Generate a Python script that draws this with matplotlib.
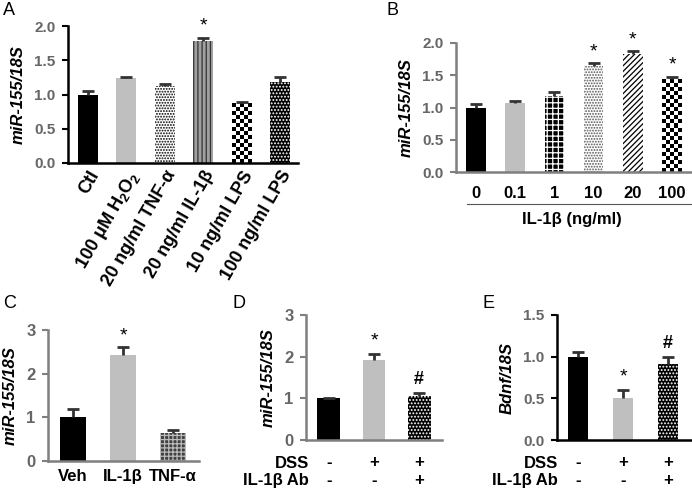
import numpy as np
import matplotlib
matplotlib.use("Agg")
import matplotlib.pyplot as plt

plt.rcParams['font.family'] = ['Liberation Sans', 'DejaVu Sans']
plt.rcParams['hatch.linewidth'] = 0.9
plt.rcParams['mathtext.fontset'] = 'custom'
plt.rcParams['mathtext.rm'] = 'Liberation Sans:bold'
plt.rcParams['mathtext.it'] = 'Liberation Sans:bold'
plt.rcParams['mathtext.bf'] = 'Liberation Sans:bold'

# panel A
a_labels = ['Ctl', '100 μM H$_2$O$_2$', '20 ng/ml TNF-α', '20 ng/ml IL-1β', '10 ng/ml LPS', '100 ng/ml LPS']
a_vals = [1.0, 1.24, 1.13, 1.78, 0.87, 1.18]
a_errs = [0.05, 0.02, 0.03, 0.05, 0.02, 0.08]
a_marks = ['', '', '', '*', '', '']

# panel B
b_labels = ['0', '0.1', '1', '10', '20', '100']
b_vals = [1.0, 1.07, 1.18, 1.65, 1.83, 1.44]
b_errs = [0.06, 0.03, 0.06, 0.04, 0.04, 0.04]
b_marks = ['', '', '', '*', '*', '*']

# panel C
c_labels = ['Veh', 'IL-1β', 'TNF-α']
c_vals = [1.0, 2.42, 0.65]
c_errs = [0.2, 0.18, 0.05]
c_marks = ['', '*', '']

# panel D
d_vals = [1.0, 1.93, 1.05]
d_errs = [0.02, 0.13, 0.08]
d_marks = ['', '*', '#']

# panel E
e_vals = [1.0, 0.5, 0.91]
e_errs = [0.06, 0.1, 0.09]
e_marks = ['', '*', '#']

dss = ['-', '+', '+']
ab = ['-', '-', '+']

W, H = 692, 496
fig = plt.figure(figsize=(W / 100, H / 100), dpi=100)


def axes_px(left, right, top, bottom):
    return fig.add_axes([left / W, 1 - bottom / H, (right - left) / W, (bottom - top) / H])


def checker(ax, bar, sq=4.0):
    x, y, w, h = bar.get_x(), bar.get_y(), bar.get_width(), bar.get_height()
    p0 = ax.transData.transform((x, y))
    p1 = ax.transData.transform((x + w, y + h))
    nx = max(1, int(round((p1[0] - p0[0]) / sq)))
    ny = max(1, int(round((p1[1] - p0[1]) / sq)))
    arr = np.add.outer(np.arange(ny), np.arange(nx)) % 2
    ax.imshow(arr, cmap='gray', extent=(x, x + w, y, y + h), aspect='auto',
              interpolation='nearest', origin='lower', zorder=2)


def panel(ax, vals, errs, marks, styles, width, xlim, ylim, yticks, yfmt,
          ylabel, axcol, errcol='#333333', markpad=0.05, fs=11):
    x = np.arange(len(vals))
    ax.set_xlim(*xlim)
    ax.set_ylim(*ylim)
    for i, (v, st) in enumerate(zip(vals, styles)):
        if st == 'checker':
            b = ax.bar(x[i], v, width, color='white', lw=0, zorder=1)[0]
            checker(ax, b)
        else:
            fc, hatch, hc = st
            ax.bar(x[i], v, width, color=fc, hatch=hatch, edgecolor=hc, lw=0, zorder=2)
    eb = ax.errorbar(x, vals, yerr=[np.zeros(len(vals)), errs], fmt='none',
                     ecolor=errcol, elinewidth=2, capsize=4, capthick=2, zorder=3)
    eb[1][0].set_visible(False)  # only the upper cap
    for i, m in enumerate(marks):
        if m:
            ax.text(x[i], vals[i] + errs[i] + markpad * (ylim[1] - ylim[0]), m,
                    ha='center', va='bottom', fontsize=14 if m == '*' else 13,
                    fontweight='bold' if m == '#' else 'normal')
    ax.set_xlim(*xlim)
    ax.set_ylim(*ylim)
    ax.set_yticks(yticks)
    ax.set_yticklabels([yfmt.format(t) for t in yticks], color='#666666',
                       fontweight='bold', fontsize=fs)
    ax.set_ylabel(ylabel, fontsize=12, fontweight='bold', style='italic', labelpad=6)
    for s in ['top', 'right']:
        ax.spines[s].set_visible(False)
    for s in ['left', 'bottom']:
        ax.spines[s].set_color(axcol)
        ax.spines[s].set_linewidth(1.8)
    ax.tick_params(axis='y', direction='out', length=4, width=1.5, color=axcol, pad=5)
    ax.tick_params(axis='x', length=0)
    ax.patch.set_alpha(0)
    return x


dark_dots = ('black', '.....', 'white')

# A
axA = axes_px(68, 298, 26, 163)
styA = [('black', '', 'black'), ('#bfbfbf', '', '#bfbfbf'), ('white', '......', 'black'),
        ('#a0a0a0', '||||', '#333333'), 'checker', dark_dots]
xA = panel(axA, a_vals, a_errs, a_marks, styA, 0.52, (-0.52, 5.47), (0, 2),
           [0, 0.5, 1, 1.5, 2], '{:.1f}', 'miR-155/18S', 'black', markpad=0.02)
axA.set_xticks(xA)
axA.set_xticklabels(a_labels, rotation=60, ha='right', rotation_mode='anchor',
                    fontweight='bold', fontsize=13)

# B
axB = axes_px(456, 692, 43, 172)
styB = [('black', '', 'black'), ('#bfbfbf', '', '#bfbfbf'), ('black', '+++', 'white'),
        ('white', '......', '#555555'), ('white', '//////', 'black'), 'checker']
xB = panel(axB, b_vals, b_errs, b_marks, styB, 0.5, (-0.51, 5.51), (0, 2),
           [0, 0.5, 1, 1.5, 2], '{:.1f}', 'miR-155/18S', '#7f7f7f', markpad=0.02)
axB.set_xticks(xB)
axB.set_xticklabels(b_labels, fontweight='bold', fontsize=12)
axB.tick_params(axis='x', pad=10)
axB.plot([0.047, 1.0], [-0.248, -0.248], transform=axB.transAxes, color='#555555',
         lw=0.8, clip_on=False)
axB.text(0.49, -0.37, 'IL-1β (ng/ml)', transform=axB.transAxes, ha='center', va='center',
         fontweight='bold', fontsize=12)

# C
axC = axes_px(48, 199, 330, 461)
styC = [('black', '', 'black'), ('#bfbfbf', '', '#bfbfbf'), ('#404040', '++++', '#bbbbbb')]
xC = panel(axC, c_vals, c_errs, c_marks, styC, 0.52, (-0.5, 2.52), (0, 3),
           [0, 1, 2, 3], '{:d}', 'miR-155/18S', '#7f7f7f', markpad=0.02, fs=12)
axC.set_xticks(xC)
axC.set_xticklabels(c_labels, fontweight='bold', fontsize=12)
axC.tick_params(axis='x', pad=6)

# D
axD = axes_px(306, 442, 315, 440)
styD = [('black', '', 'black'), ('#bfbfbf', '', '#bfbfbf'), dark_dots]
xD = panel(axD, d_vals, d_errs, d_marks, styD, 0.51, (-0.51, 2.51), (0, 3),
           [0, 1, 2, 3], '{:d}', 'miR-155/18S', '#7f7f7f', markpad=0.04, fs=12)
axD.set_xticks([])

# E
axE = axes_px(557, 692, 315, 440)
styE = [('black', '', 'black'), ('#bfbfbf', '', '#bfbfbf'), dark_dots]
xE = panel(axE, e_vals, e_errs, e_marks, styE, 0.44, (-0.47, 2.53), (0, 1.5),
           [0, 0.5, 1, 1.5], '{:.1f}', 'Bdnf/18S', 'black', markpad=0.04)
axE.set_xticks([])

# sign rows under D and E
for ax, xs, lab_x in [(axD, xD, 309), (axE, xE, 558)]:
    for row, (name, signs) in enumerate([('DSS', dss), ('IL-1β Ab', ab)]):
        ypx = 463 + row * 17
        fig.text(lab_x / W, 1 - ypx / H, name, ha='right', va='center',
                 fontweight='bold', fontsize=12)
        for xi, s in zip(xs, signs):
            xf = fig.transFigure.inverted().transform(ax.transData.transform((xi, 0)))[0]
            fig.text(xf, 1 - ypx / H, s, ha='center', va='center', fontweight='bold', fontsize=12)

# panel letters
for lab, (px, py) in zip('ABCDE', [(3, 15), (386, 15), (3, 308), (233, 308), (482, 308)]):
    fig.text(px / W, 1 - py / H, lab, fontsize=13, ha='left', va='baseline')

fig.savefig('out.png', dpi=100)
